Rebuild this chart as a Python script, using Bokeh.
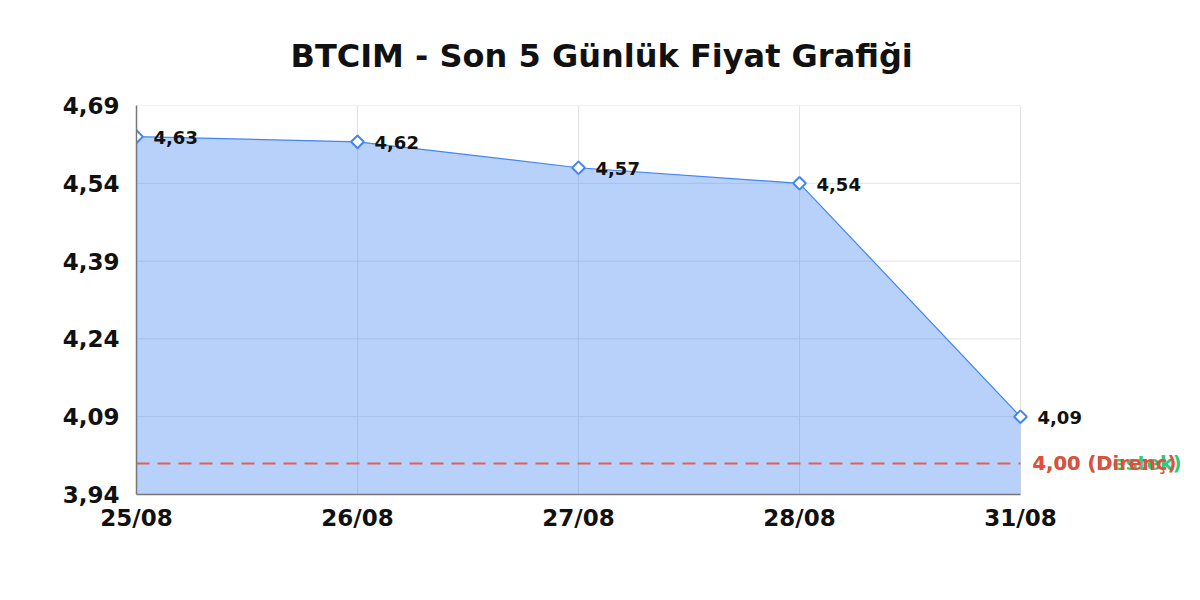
from bokeh.plotting import figure
from bokeh.models import FixedTicker, CustomJSTickFormatter, Range1d, ColumnDataSource
from bokeh.core.properties import value
from bokeh.embed import file_html
from bokeh.resources import INLINE
import math

title_text = "BTCIM - Son 5 Günlük Fiyat Grafiği"
dates = ["25/08", "26/08", "27/08", "28/08", "31/08"]
prices = [4.63, 4.62, 4.57, 4.54, 4.09]
y_ticks = [3.94, 4.09, 4.24, 4.39, 4.54, 4.69]
resistance = 4.00
support = 4.00
resistance_label = "4,00 (Direnç)"
support_label = "4,00 (Destek)"

FONT = "DejaVu Sans"
W, H = 1184, 584
LEFT, TOP, BOTTOM, RIGHT = 136, 105, 90, 4
DATA_W = 884  # pixel width of the data area (first to last date)

n = len(dates)
xs = list(range(n))
x_last = n - 1
ymin, ymax = y_ticks[0], y_ticks[-1]
frame_w = W - LEFT - RIGHT
x_end = x_last * frame_w / DATA_W

p = figure(width=W, height=H, output_backend="svg", toolbar_location=None,
           x_range=Range1d(0, x_end), y_range=Range1d(ymin, ymax),
           min_border_left=LEFT, min_border_right=RIGHT,
           min_border_bottom=BOTTOM, min_border_top=TOP)

p.title.text = title_text
p.title.align = "left"
p.title.offset = 154
p.title.standoff = 62
p.title.text_font = FONT
p.title.text_font_size = "32px"
p.title.text_font_style = "bold"
p.title.text_color = "#111111"

# horizontal grid lines limited to the data area
p.segment(x0=[0] * len(y_ticks), x1=[x_last] * len(y_ticks), y0=y_ticks, y1=y_ticks,
          line_color="#e3e3e3", line_width=1)
# vertical grid lines at each date
p.segment(x0=xs, x1=xs, y0=[ymin] * n, y1=[ymax] * n, line_color="#e3e3e3", line_width=1)

src = ColumnDataSource(dict(x=xs, y=prices, base=[ymin] * n,
                            lbl=[f"{v:.2f}".replace(".", ",") for v in prices]))

p.varea(x="x", y1="base", y2="y", source=src, fill_color="#4285f4", fill_alpha=0.38)
p.line(x="x", y="y", source=src, line_color="#4285f4", line_width=1.2)

# support / resistance line
p.segment(x0=[0], x1=[x_last], y0=[resistance], y1=[resistance],
          line_color="#e74c3c", line_alpha=0.85, line_dash="13 8", line_width=2)

p.scatter(x="x", y="y", source=src, marker="square", angle=math.pi / 4, size=9,
          line_color="#4285f4", line_width=2, fill_color="white")
p.text(x="x", y="y", text="lbl", source=src, x_offset=17, y_offset=1,
       text_font=value(FONT), text_font_size="18px", text_font_style="bold",
       text_baseline="middle", text_align="left", text_color="#111111")

p.text(x=[x_last], y=[support], text=[support_label], x_offset=12,
       text_font=value(FONT), text_font_size="19.5px", text_font_style="bold",
       text_color="#2ecc71", text_baseline="middle", text_align="left")
p.text(x=[x_last], y=[resistance], text=[resistance_label], x_offset=12,
       text_font=value(FONT), text_font_size="19.5px", text_font_style="bold",
       text_color="#e74c3c", text_baseline="middle", text_align="left")

p.xaxis.ticker = FixedTicker(ticks=xs)
p.xaxis.formatter = CustomJSTickFormatter(args=dict(labels=dates), code="return labels[tick];")
p.xaxis.bounds = (0, x_last)
p.yaxis.ticker = FixedTicker(ticks=y_ticks)
p.yaxis.formatter = CustomJSTickFormatter(code="return tick.toFixed(2).replace('.', ',');")

for ax in (p.xaxis, p.yaxis):
    ax.major_label_text_font = FONT
    ax.major_label_text_font_size = "23px"
    ax.major_label_text_font_style = "bold"
    ax.major_label_text_color = "#111111"
    ax.axis_line_color = "#777777"
    ax.axis_line_width = 1.5
    ax.major_tick_line_color = None
    ax.minor_tick_line_color = None
    ax.major_tick_out = 0
    ax.major_tick_in = 0
p.yaxis.major_label_standoff = 17
p.xaxis.major_label_standoff = 10

p.xgrid.visible = False
p.ygrid.visible = False
p.outline_line_color = None
p.background_fill_color = "white"

open("out.html", "w").write(file_html(p, INLINE))
